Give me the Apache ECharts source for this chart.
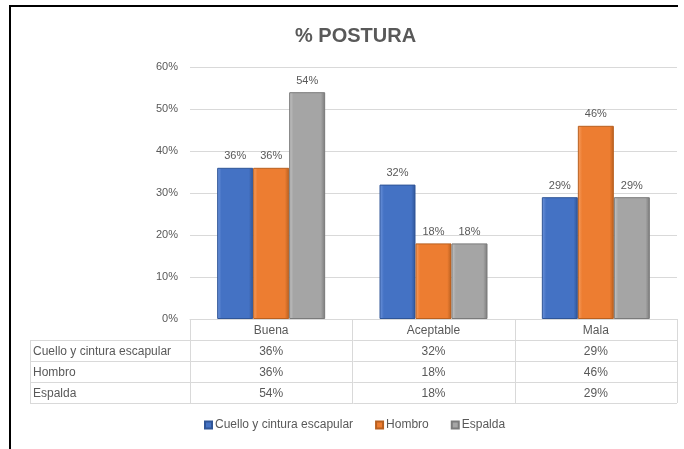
<!DOCTYPE html>
<html><head><meta charset="utf-8">
<script src="https://cdn.jsdelivr.net/npm/echarts@6/dist/echarts.min.js"></script>
<style>html,body{margin:0;padding:0;background:#fff}#c{width:684px;height:449px}</style>
</head><body><div id="c"></div>
<script>
var categories = ['Buena', 'Aceptable', 'Mala'];
var seriesNames = ['Cuello y cintura escapular', 'Hombro', 'Espalda'];
var cuello = [0.36, 0.32, 0.29];
var hombro = [0.36, 0.18, 0.46];
var espalda = [0.54, 0.18, 0.29];
var yTicks = [0, 0.1, 0.2, 0.3, 0.4, 0.5, 0.6];

var FONT = '"Liberation Sans", sans-serif';
var TXT = '#595959';
var LINE = '#d9d9d9';
var baseColors = [
  {light:'#6f95dc', base:'#4472c4', dark:'#2f5597'},
  {light:'#f7a064', base:'#ed7d31', dark:'#b85f1f'},
  {light:'#c5c5c5', base:'#a5a5a5', dark:'#7a7a7a'}
];
function grad(c){
  return new echarts.graphic.LinearGradient(0,0,1,0,[
    {offset:0,color:c.light},{offset:0.12,color:c.base},
    {offset:0.88,color:c.base},{offset:1,color:c.dark}]);
}
var allData = [cuello, hombro, espalda];
var pct = function(v){ return Math.round(v*100) + '%'; };

var chart = echarts.init(document.getElementById('c'));
var gridLeft = 190, gridRight = 7, gridTop = 67, gridBottom = 130;
var series = allData.map(function(d, i){
  return {
    name: seriesNames[i], type: 'bar', data: d,
    barWidth: 36, barGap: '0%',
    itemStyle: {color: grad(baseColors[i]), borderColor: baseColors[i].dark, borderWidth: 1},
    label: {show: true, position: 'top', distance: 6, formatter: function(p){return pct(p.value);},
            color: TXT, fontSize: 11, fontFamily: FONT}
  };
});
chart.setOption({
  animation: false,
  title: {text: '% POSTURA', left: 290, top: 21,
    textStyle: {fontFamily: FONT, fontSize: 20, fontWeight: 'bold', color: TXT}},
  grid: {left: gridLeft, right: gridRight, top: gridTop, bottom: gridBottom},
  legend: {
    top: 414, left: 199, itemWidth: 7, itemHeight: 7, itemGap: 22,
    icon: 'rect',
    textStyle: {fontFamily: FONT, fontSize: 12, color: TXT, padding:[0,0,0,-2]},
    data: seriesNames
  },
  xAxis: {type: 'category', data: categories,
    axisLine: {lineStyle: {color: LINE}}, axisTick: {show: false},
    axisLabel: {show: false}},
  yAxis: {type: 'value', min: 0, max: 0.6, interval: 0.1,
    axisLabel: {formatter: function(v){return Math.round(v*100)+'%';}, color: TXT, fontSize: 11, fontFamily: FONT, margin: 12},
    splitLine: {lineStyle: {color: LINE}}, axisLine: {show: false}, axisTick: {show: false}},
  series: series
});

// build data table from arrays using axis pixel positions
var x0 = chart.convertToPixel({gridIndex:0}, [0,0]);
var cw = chart.getModel().getComponent('xAxis',0).axis.getBandWidth();
var axisY = x0[1];
var plotLeft = gridLeft, plotRight = 684 - gridRight;
var rowH = 21, labelLeft = 30;
var els = [];
// outer frame
els.push({type:'line', shape:{x1:10,y1:6,x2:678,y2:6}, style:{stroke:'#000', lineWidth:2}});
els.push({type:'line', shape:{x1:10,y1:5,x2:10,y2:449}, style:{stroke:'#000', lineWidth:2}});
var nRows = allData.length;
var bottomY = axisY + rowH*(nRows+1);
for (var r=1; r<=nRows+1; r++){
  var yy = axisY + rowH*r;
  els.push({type:'line', shape:{x1:labelLeft,y1:yy+0.5,x2:plotRight,y2:yy+0.5}, style:{stroke:LINE,lineWidth:1}});
}
els.push({type:'line', shape:{x1:labelLeft+0.5,y1:axisY+rowH,x2:labelLeft+0.5,y2:bottomY}, style:{stroke:LINE,lineWidth:1}});
for (var c=0; c<=categories.length; c++){
  var xx = Math.round(plotLeft + cw*c) + 0.5;
  els.push({type:'line', shape:{x1:xx,y1:axisY,x2:xx,y2:bottomY}, style:{stroke:LINE,lineWidth:1}});
}
categories.forEach(function(cat, c){
  var cx = chart.convertToPixel({xAxisIndex:0}, cat);
  els.push({type:'text', x:cx, y:axisY + rowH/2 + 1, style:{text:cat, fill:TXT, font:'12px '+FONT, textAlign:'center', textVerticalAlign:'middle'}});
});
allData.forEach(function(d, r){
  var cy = axisY + rowH*(r+1) + rowH/2 + 1;
  els.push({type:'text', x:labelLeft+3, y:cy, style:{text:seriesNames[r], fill:TXT, font:'12px '+FONT, textAlign:'left', textVerticalAlign:'middle'}});
  d.forEach(function(v, c){
    var cx = chart.convertToPixel({xAxisIndex:0}, categories[c]);
    els.push({type:'text', x:cx, y:cy, style:{text:pct(v), fill:TXT, font:'12px '+FONT, textAlign:'center', textVerticalAlign:'middle'}});
  });
});
chart.setOption({graphic: els});
</script></body></html>
